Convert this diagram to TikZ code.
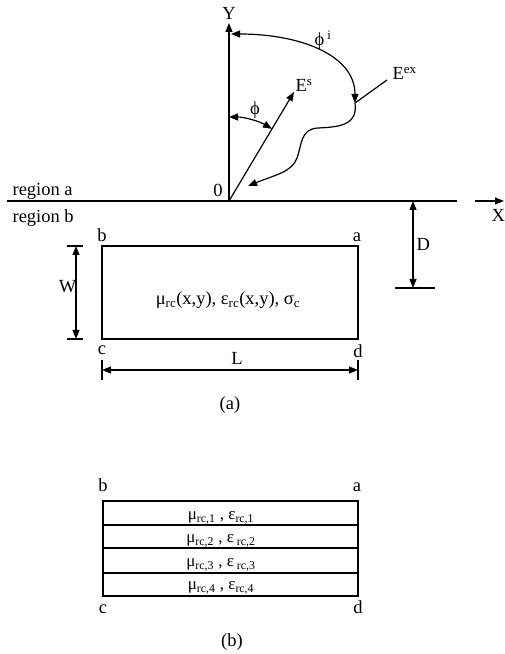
\documentclass[tikz,border=0pt]{standalone}
\usepackage{fontspec}
\setmainfont{Liberation Serif}
\usetikzlibrary{arrows.meta}

\tikzset{
  tip/.style={-{Triangle[length=9pt,width=7pt]}},
  tips/.style={{Triangle[length=9pt,width=7pt]}-{Triangle[length=9pt,width=7pt]}},
  lbl/.style={inner sep=0pt,font=\fontsize{18.5}{21}\selectfont},
  small/.style={inner sep=0pt,font=\fontsize{17}{19}\selectfont},
}
\newcommand{\sub}[1]{\textsubscript{#1}}

\begin{document}
\begin{tikzpicture}[x=1pt,y=1pt,line width=1.2pt,every node/.style={lbl}]
  \useasboundingbox (0,0) rectangle (504,654);
  % axes
  \coordinate (O)    at (229,453);
  \coordinate (ytop) at (229,631);
  \coordinate (hl)   at (  7,453);
  \coordinate (hr)   at (457,453);
  \coordinate (xs)   at (475,453);
  \coordinate (xe)   at (504,453);
  \draw (hl) -- (hr);
  \draw[tip] (O) -- (ytop);
  \draw[tip] (xs) -- (xe);
  \node[anchor=base]      (ylab) at (229,634) {Y};
  \node[anchor=base west] (xlab) at (491,432) {X};
  \node[anchor=base]      (zero) at (218,457) {0};
  \node[anchor=base west] (rega) at ( 12,458) {region a};
  \node[anchor=base west] (regb) at ( 12,431) {region b};
  % scattered field and angle
  \coordinate (es) at (294,562);
  \draw[tip] (O) -- (es);
  \node[anchor=base west] (eslab) at (295,562) {E\textsuperscript{s}};
  \draw[tips] (O) +(90:84) arc(90:59.2:84);
  \node (phi) at (255,544) {ϕ};
  % incident field
  \coordinate (yi) at (231,620);
  \coordinate (p)  at (355,551);
  \coordinate (ex) at (387,574);
  \coordinate (w1) at (318,526);
  \coordinate (w2) at (297,496);
  \coordinate (w3) at (248,468);
  \draw[tips] (yi) .. controls (300,620) and (355,599) .. (p);
  \draw (ex) -- (p);
  \draw[tip] (p) .. controls (358,529) and (340,527) .. (w1)
                 .. controls (300,525) and (302,509) .. (w2)
                 .. controls (292,482) and (275,479) .. (w3);
  \node (phii) at (323,614) {ϕ\,\textsuperscript{i}};
  \node[anchor=base west] (exlab) at (392,574) {E\textsuperscript{ex}};
  % cylinder (a)
  \coordinate (ra) at (358,408);
  \coordinate (rb) at (102,408);
  \coordinate (rc) at (102,315);
  \coordinate (rd) at (358,315);
  \draw (rb) -- (ra) -- (rd) -- (rc) -- cycle;
  \node[anchor=base] (la) at (357,412) {a};
  \node[anchor=base] (lb) at (102,412) {b};
  \node[anchor=base] (lc) at (102,299) {c};
  \node[anchor=base] (ld) at (358,296) {d};
  \node[anchor=base] (mat) at (228,349)
    {μ\sub{rc}(x,y), ε\sub{rc}(x,y), σ\sub{c}};
  % dimensions
  \coordinate (wt) at (76,408);
  \coordinate (wb) at (76,315);
  \draw (67,408) -- (83,408);
  \draw (67,315) -- (83,315);
  \draw[tips] (wt) -- (wb);
  \node[anchor=base east] (wlab) at (77,361) {W};
  \coordinate (ll) at (102,284);
  \coordinate (lr) at (358,284);
  \draw (102,294) -- (102,274);
  \draw (358,294) -- (358,274);
  \draw[tips] (ll) -- (lr);
  \node[anchor=base] (llab) at (237,289) {L};
  \coordinate (dt) at (413,453);
  \coordinate (db) at (413,366);
  \draw (395,366) -- (435,366);
  \draw[tips] (dt) -- (db);
  \node[anchor=base west] (dlab) at (416,403) {D};
  \node[anchor=base] (capa) at (230,244) {(a)};
  % layered cylinder (b)
  \draw (103,58) rectangle (358,153);
  \foreach \y in {129,106,81}
    \draw (103,\y) -- (358,\y);
  \node[small,anchor=base] (r1) at (221,134) {μ\sub{rc,1} , ε\sub{rc,1}};
  \node[small,anchor=base] (r2) at (221,111) {μ\sub{rc,2} , ε\sub{ rc,2}};
  \node[small,anchor=base] (r3) at (221, 87) {μ\sub{rc,3} , ε\sub{ rc,3}};
  \node[small,anchor=base] (r4) at (221, 64) {μ\sub{rc,4} , ε\sub{rc,4}};
  \node[anchor=base] (lb2) at (103,162) {b};
  \node[anchor=base] (la2) at (357,162) {a};
  \node[anchor=base] (lc2) at (103, 40) {c};
  \node[anchor=base] (ld2) at (358, 40) {d};
  \node[anchor=base] (capb) at (232,8) {(b)};
\end{tikzpicture}
\end{document}
